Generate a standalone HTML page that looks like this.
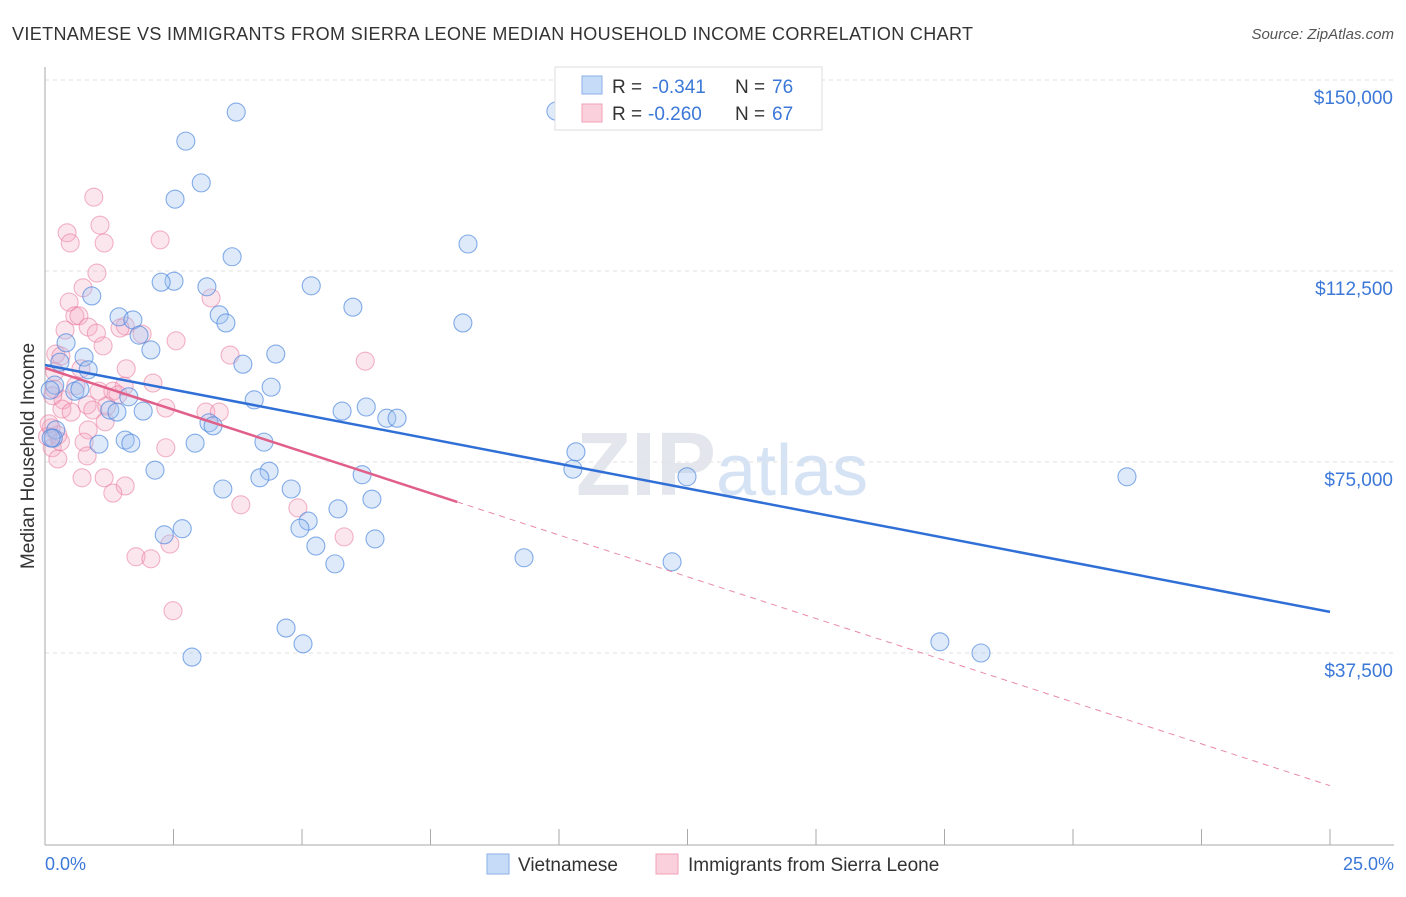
<!DOCTYPE html>
<html><head><meta charset="utf-8"><style>
body{margin:0;background:#fff;font-family:"Liberation Sans",sans-serif;}
svg text{font-family:"Liberation Sans",sans-serif;}
</style></head><body>
<svg id="chart" width="1406" height="892" xmlns="http://www.w3.org/2000/svg">
<text x="12" y="40" font-size="18" fill="#333" textLength="961">VIETNAMESE VS IMMIGRANTS FROM SIERRA LEONE MEDIAN HOUSEHOLD INCOME CORRELATION CHART</text>
<text x="1394" y="39" font-size="15" fill="#555" text-anchor="end" font-style="italic">Source: ZipAtlas.com</text>
<text x="716" y="495" font-size="90" fill="#e3e6ec" text-anchor="end" font-family="Liberation Serif" font-weight="bold">ZIP</text>
<text x="716" y="495" font-size="72" fill="#d6e3f5">atlas</text>
<g id="grid"></g><g id="axes"></g><g id="pts"></g><g id="trend"></g>
<text transform="translate(34,456) rotate(-90)" font-size="19" fill="#333" text-anchor="middle">Median Household Income</text>
<text x="45" y="870" font-size="18" fill="#3b78d8">0.0%</text>
<text x="1394" y="870" font-size="18" fill="#3b78d8" text-anchor="end">25.0%</text>
<g>
<rect x="555" y="67" width="267" height="63" fill="#fff" stroke="#ddd"/>
<rect x="582" y="76" width="20" height="18" fill="#c6dbf7" stroke="#8ab0e8"/>
<rect x="582" y="104" width="20" height="18" fill="#fbd0dd" stroke="#f0a0b8"/>
<text x="612" y="93" font-size="19" fill="#333">R =</text>
<text x="652" y="93" font-size="19" fill="#3b78d8">-0.341</text>
<text x="735" y="93" font-size="19" fill="#333">N =</text>
<text x="772" y="93" font-size="19" fill="#3b78d8">76</text>
<text x="612" y="120" font-size="19" fill="#333">R =</text>
<text x="648" y="120" font-size="19" fill="#3b78d8">-0.260</text>
<text x="735" y="120" font-size="19" fill="#333">N =</text>
<text x="772" y="120" font-size="19" fill="#3b78d8">67</text>
</g>
<g>
<rect x="487" y="854" width="22" height="20" fill="#c6dbf7" stroke="#8ab0e8"/>
<text x="518" y="871" font-size="19" fill="#333">Vietnamese</text>
<rect x="656" y="854" width="22" height="20" fill="#fbd0dd" stroke="#f0a0b8"/>
<text x="688" y="871" font-size="19" fill="#333">Immigrants from Sierra Leone</text>
</g>
</svg>
<script>
const yTicks=[150000,112500,75000,37500];
const yTickLabels=["$150,000","$112,500","$75,000","$37,500"];
const xTicks=[0,2.5,5,7.5,10,12.5,15,17.5,20,22.5,25];
const blueX=[3.72,2.74,3.04,2.53,9.94,8.23,3.64,2.51,2.26,5.18,3.15,0.91,5.99,8.13,3.39,3.52,1.44,1.71,1.83,0.41,2.06,0.76,4.49,0.29,3.85,0.84,0.19,0.58,0.68,4.40,4.07,1.63,1.26,1.40,1.91,6.25,5.78,6.65,6.85,3.19,3.27,0.21,0.16,1.56,1.67,1.05,2.92,4.26,10.33,10.27,2.14,4.36,4.18,12.49,21.05,6.17,3.46,4.79,6.36,5.70,5.12,4.96,2.67,2.32,6.42,5.27,9.32,5.64,12.20,17.41,18.21,4.69,5.02,2.86,0.12,0.10];
const blueY=[143700,138000,129800,126600,143900,117800,115300,110500,110300,109600,109400,107600,105400,102300,103900,102300,103500,102900,99900,98400,97000,95600,96200,94600,94200,93100,90100,88900,89300,89700,87200,87800,85200,84800,85000,85800,85000,83600,83600,82700,82100,81300,79700,79300,78700,78500,78700,78900,77000,73600,73400,73200,71900,72100,72100,72500,69700,69700,67700,65800,63400,62000,61900,60700,59900,58500,56200,55000,55400,39700,37500,42400,39300,36700,79700,89100];
const pinkX=[0.95,0.43,0.49,1.07,1.15,2.24,1.01,0.74,0.47,3.23,0.58,0.66,0.39,0.84,1.56,1.46,1.89,1.00,2.55,1.13,0.21,0.31,3.60,6.23,0.70,1.58,0.19,2.10,1.54,0.18,1.32,1.42,1.05,0.35,0.82,0.93,0.33,2.35,3.13,3.39,0.51,1.17,0.12,0.84,0.25,0.76,2.35,0.14,0.82,0.25,0.72,1.15,1.56,1.32,3.81,4.92,5.82,2.43,1.77,2.06,2.49,0.05,0.08,0.15,0.6,1.2,0.3];
const pinkY=[127000,120000,118000,121500,118000,118600,112100,109200,106400,107200,103700,103700,100900,101500,101700,101300,100100,100300,98800,97800,96200,95800,96000,94800,93300,93300,92700,90500,89900,89300,88900,88200,88900,87200,86200,85200,85400,85600,84800,84800,84800,82900,81700,81300,80300,78900,77800,77800,76200,75600,71900,71900,70300,68900,66600,66000,60300,58900,56400,56000,45800,80000,82500,88000,90000,86000,79000];
const blueTrendX=[0,25], blueTrendY=[94050,45570];
const pinkTrendX=[0,8.02,25], pinkTrendY=[93460,67160,11460];
const X=v=>45+v*51.4, Y=v=>80+(150000-v)/37500*191;
const NS="http://www.w3.org/2000/svg";
function mk(parent,tag,a){const e=document.createElementNS(NS,tag);for(const k in a)e.setAttribute(k,a[k]);document.getElementById(parent).appendChild(e);return e;}
yTicks.forEach((t,i)=>{
 let l=mk('grid','line',{x1:45,x2:1394,y1:Y(t),y2:Y(t),stroke:'#e2e2e2','stroke-dasharray':'4,4'});
 
 
 let tx=mk('grid','text',{x:1393,y:Y(t)+24,'font-size':19,fill:'#3b78d8','text-anchor':'end'});
 tx.textContent=yTickLabels[i];
 
 
});
let ax=mk('axes','line',{x1:45,x2:45,y1:67,y2:845,stroke:'#aaa'});


let bx=mk('axes','line',{x1:45,x2:1394,y1:845,y2:845,stroke:'#aaa'});


xTicks.forEach(t=>{
 let l=mk('axes','line',{x1:X(t),x2:X(t),y1:829,y2:845,stroke:'#aaa'});
 
 
});
pinkX.forEach((v,i)=>{
 let c=mk('pts','circle',{cx:X(v),cy:Y(pinkY[i]),r:9,fill:'rgba(246,165,195,0.28)',stroke:'rgba(232,120,155,0.55)','stroke-width':1.1});
 
 
});
blueX.forEach((v,i)=>{
 let c=mk('pts','circle',{cx:X(v),cy:Y(blueY[i]),r:9,fill:'rgba(160,195,240,0.35)',stroke:'rgba(70,130,220,0.65)','stroke-width':1.1});
 
 
});
let bt=mk('trend','line',{x1:X(blueTrendX[0]),y1:Y(blueTrendY[0]),x2:X(blueTrendX[1]),y2:Y(blueTrendY[1]),stroke:'#2f6fd6','stroke-width':2.5});


let pt=mk('trend','line',{x1:X(pinkTrendX[0]),y1:Y(pinkTrendY[0]),x2:X(pinkTrendX[1]),y2:Y(pinkTrendY[1]),stroke:'#e0608a','stroke-width':2.5});


let pd=mk('trend','line',{x1:X(pinkTrendX[1]),y1:Y(pinkTrendY[1]),x2:X(pinkTrendX[2]),y2:Y(pinkTrendY[2]),stroke:'#e88aa8','stroke-width':1,'stroke-dasharray':'6,5'});


</script>
</body></html>
